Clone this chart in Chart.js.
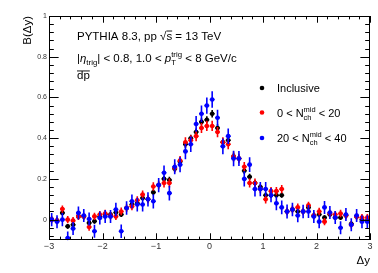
<!DOCTYPE html>
<html>
<head>
<meta charset="utf-8">
<script src="https://cdn.jsdelivr.net/npm/chart.js@4"></script>
<style>
body { margin: 0; background: #fff; }
#wrap { width: 378px; height: 273px; }
</style>
</head>
<body>
<div id="wrap"><canvas id="chart" width="378" height="273"></canvas></div>
<script>
// bin centres in delta y
var dyBins = [-2.95, -2.85, -2.75, -2.65, -2.55, -2.45, -2.35, -2.25, -2.15, -2.05,
    -1.95, -1.85, -1.75, -1.65, -1.55, -1.45, -1.35, -1.25, -1.15, -1.05,
    -0.95, -0.85, -0.75, -0.65, -0.55, -0.45, -0.35, -0.25, -0.15, -0.05,
    0.05, 0.15, 0.25, 0.35, 0.45, 0.55, 0.65, 0.75, 0.85, 0.95,
    1.05, 1.15, 1.25, 1.35, 1.45, 1.55, 1.65, 1.75, 1.85, 1.95,
    2.05, 2.15, 2.25, 2.35, 2.45, 2.55, 2.65, 2.75, 2.85, 2.95];

var inclusive = [0.0, -0.005, 0.033, -0.033, -0.025, 0.016, 0.016, -0.016, -0.008, 0.015,
    0.025, 0.025, 0.035, 0.025, 0.057, 0.074, 0.08, 0.106, 0.10, 0.134,
    0.17, 0.20, 0.195, 0.25, 0.285, 0.37, 0.40, 0.43, 0.48, 0.49,
    0.52, 0.45, 0.38, 0.39, 0.31, 0.30, 0.24, 0.21, 0.18, 0.16,
    0.12, 0.12, 0.12, 0.12, 0.04, 0.05, 0.04, 0.04, 0.06, 0.02,
    0.025, 0.01, 0.025, 0.01, 0.01, 0.02, -0.02, 0.015, 0.0, -0.005];
var inclusiveErr = [0.012, 0.012, 0.012, 0.012, 0.012, 0.012, 0.012, 0.012, 0.012, 0.012,
    0.012, 0.012, 0.012, 0.012, 0.013, 0.013, 0.013, 0.013, 0.014, 0.014,
    0.014, 0.015, 0.015, 0.016, 0.016, 0.017, 0.017, 0.018, 0.018, 0.018,
    0.018, 0.018, 0.018, 0.017, 0.017, 0.016, 0.016, 0.015, 0.015, 0.014,
    0.014, 0.014, 0.013, 0.013, 0.013, 0.013, 0.012, 0.012, 0.012, 0.012,
    0.012, 0.012, 0.012, 0.012, 0.012, 0.012, 0.012, 0.012, 0.012, 0.012];

var lowMult = [0.0, -0.005, 0.052, 0.0, -0.005, 0.016, 0.016, -0.036, 0.016, 0.025,
    0.03, 0.02, 0.016, 0.04, 0.057, 0.065, 0.095, 0.123, 0.10, 0.163,
    0.17, 0.18, 0.18, 0.255, 0.29, 0.38, 0.39, 0.41, 0.45, 0.46,
    0.46, 0.43, 0.38, 0.37, 0.31, 0.30, 0.26, 0.18, 0.18, 0.15,
    0.10, 0.14, 0.14, 0.15, 0.04, 0.05, 0.06, 0.04, 0.07, 0.02,
    0.04, -0.01, 0.03, 0.025, 0.03, 0.02, -0.025, 0.015, 0.01, 0.01];
var lowMultErr = [0.018, 0.018, 0.018, 0.018, 0.018, 0.018, 0.018, 0.018, 0.018, 0.018,
    0.018, 0.018, 0.018, 0.019, 0.019, 0.019, 0.02, 0.02, 0.02, 0.021,
    0.021, 0.022, 0.022, 0.023, 0.023, 0.024, 0.024, 0.025, 0.025, 0.025,
    0.025, 0.025, 0.025, 0.024, 0.024, 0.023, 0.023, 0.022, 0.022, 0.021,
    0.021, 0.02, 0.02, 0.02, 0.019, 0.019, 0.019, 0.018, 0.018, 0.018,
    0.018, 0.018, 0.018, 0.018, 0.018, 0.018, 0.018, 0.018, 0.018, 0.018];

var highMult = [0.0, -0.01, 0.0, -0.09, -0.044, 0.033, 0.02, 0.003, -0.057, 0.008,
    0.015, 0.015, 0.05, -0.057, 0.057, 0.09, 0.074, 0.074, 0.10, 0.09,
    0.17, 0.23, 0.13, 0.26, 0.27, 0.335, 0.37, 0.47, 0.52, 0.56,
    0.59, 0.50, 0.36, 0.41, 0.30, 0.30, 0.20, 0.27, 0.15, 0.15,
    0.15, 0.12, 0.08, 0.06, 0.04, 0.05, 0.02, 0.04, 0.04, 0.015,
    -0.01, 0.06, 0.035, 0.01, -0.04, 0.025, -0.025, 0.02, -0.01, -0.01];
var highMultErr = [0.032, 0.032, 0.032, 0.032, 0.032, 0.032, 0.032, 0.032, 0.032, 0.032,
    0.032, 0.032, 0.033, 0.033, 0.033, 0.034, 0.034, 0.034, 0.035, 0.035,
    0.035, 0.036, 0.036, 0.037, 0.037, 0.038, 0.038, 0.039, 0.04, 0.04,
    0.04, 0.04, 0.039, 0.038, 0.038, 0.037, 0.037, 0.036, 0.036, 0.035,
    0.035, 0.035, 0.034, 0.034, 0.034, 0.033, 0.033, 0.033, 0.032, 0.032,
    0.032, 0.032, 0.032, 0.032, 0.032, 0.032, 0.032, 0.032, 0.032, 0.032];

var xTicks = [-3, -2, -1, 0, 1, 2, 3];
var yTicks = [0, 0.2, 0.4, 0.6, 0.8, 1];

var FONT = '"Liberation Sans", Arial, Helvetica, sans-serif';

function points(vals) {
    return dyBins.map(function (x, i) { return { x: x, y: vals[i] }; });
}

// draws a list of text pieces one after another, with sub/superscripts
function richText(ctx, x, y, parts, size) {
    var cx = x;
    parts.forEach(function (p) {
        var s = p.small ? size * 0.68 : size;
        ctx.font = (p.italic ? 'italic ' : '') + s + 'px ' + FONT;
        var dy = p.sub ? size * 0.28 : (p.sup ? -size * 0.42 : 0);
        var w = ctx.measureText(p.t).width;
        ctx.fillText(p.t, cx, y + dy);
        if (p.bar) {
            ctx.fillRect(cx, y - size * 0.82, w, 0.9);
        }
        if (!p.stack) cx += w;
    });
    return cx;
}

var errorBars = {
    id: 'errorBars',
    beforeDatasetDraw: function (chart, args) {
        var ds = chart.data.datasets[args.index];
        var xs = chart.scales.x, ys = chart.scales.y;
        var a = chart.chartArea;
        var ctx = chart.ctx;
        ctx.save();
        ctx.beginPath();
        ctx.rect(a.left, a.top, a.right - a.left, a.bottom - a.top);
        ctx.clip();
        ctx.strokeStyle = ds.borderColor;
        ctx.lineWidth = 1.6;
        ds.data.forEach(function (p, i) {
            var px = xs.getPixelForValue(p.x);
            var e = ds.errors[i];
            ctx.beginPath();
            ctx.moveTo(px, ys.getPixelForValue(p.y - e));
            ctx.lineTo(px, ys.getPixelForValue(p.y + e));
            var py = ys.getPixelForValue(p.y);
            ctx.moveTo(xs.getPixelForValue(p.x - 0.045), py);
            ctx.lineTo(xs.getPixelForValue(p.x + 0.045), py);
            ctx.stroke();
        });
        ctx.restore();
    }
};

var frame = {
    id: 'frame',
    afterDraw: function (chart) {
        var ctx = chart.ctx;
        var a = chart.chartArea;
        var xs = chart.scales.x, ys = chart.scales.y;
        var w = a.right - a.left, h = a.bottom - a.top;
        ctx.save();
        ctx.strokeStyle = '#000';
        ctx.lineWidth = 1;
        ctx.strokeRect(a.left + 0.5, a.top + 0.5, w - 1, h - 1);

        // inward ticks, mirrored on the opposite sides
        var xMaj = h * 0.03, yMaj = w * 0.03;
        ctx.beginPath();
        for (var v = -3; v <= 3.001; v += 0.2) {
            var px = Math.round(xs.getPixelForValue(v)) + 0.5;
            var major = Math.abs(v - Math.round(v)) < 0.01;
            var L = major ? xMaj : xMaj / 2;
            ctx.moveTo(px, a.bottom); ctx.lineTo(px, a.bottom - L);
            ctx.moveTo(px, a.top); ctx.lineTo(px, a.top + L);
        }
        for (var k = -2; k <= 25; k++) {
            var val = k * 0.04;
            if (val < -0.1 || val > 1.0001) continue;
            var py = Math.round(ys.getPixelForValue(val)) + 0.5;
            var majorY = k % 5 === 0;
            var Ly = majorY ? yMaj : yMaj / 2;
            ctx.moveTo(a.left, py); ctx.lineTo(a.left + Ly, py);
            ctx.moveTo(a.right, py); ctx.lineTo(a.right - Ly, py);
        }
        ctx.stroke();

        // tick labels
        ctx.fillStyle = '#333';
        ctx.font = '9px ' + FONT;
        ctx.textAlign = 'center';
        ctx.textBaseline = 'middle';
        xTicks.forEach(function (t) {
            var lbl = t < 0 ? '\u2212' + Math.abs(t) : String(t);
            ctx.fillText(lbl, xs.getPixelForValue(t), a.bottom + 7);
        });
        ctx.font = '7px ' + FONT;
        ctx.textAlign = 'right';
        yTicks.forEach(function (t) {
            ctx.fillText(String(t), a.left - 2, ys.getPixelForValue(t));
        });

        // axis titles
        ctx.fillStyle = '#000';
        ctx.font = '11.5px ' + FONT;
        ctx.textBaseline = 'alphabetic';
        ctx.textAlign = 'right';
        ctx.fillText('\u0394y', a.right, 264);
        ctx.save();
        ctx.translate(31, a.top);
        ctx.rotate(-Math.PI / 2);
        ctx.textAlign = 'right';
        ctx.fillText('B(\u0394y)', 0, 0);
        ctx.restore();

        // annotation text
        ctx.textAlign = 'left';
        var sz = 11.5;
        var x = 77;
        x = richText(ctx, x, 40, [{ t: 'PYTHIA 8.3, pp \u221A' }], sz);
        x = richText(ctx, x, 40, [{ t: 's', bar: true }, { t: ' = 13 TeV' }], sz);

        richText(ctx, 77, 62, [
            { t: '|' }, { t: '\u03B7', italic: true }, { t: 'trig', small: true, sub: true },
            { t: '| < 0.8, 1.0 < ' }, { t: 'p', italic: true },
            { t: 'T', small: true, sub: true, stack: true }, { t: 'trig', small: true, sup: true },
            { t: ' < 8 GeV/c' }
        ], sz);

        ctx.font = sz + 'px ' + FONT;
        ctx.fillText('dp', 77, 79);
        ctx.fillRect(77, 70.5, ctx.measureText('dp').width, 0.9);

        // legend
        var legendRows = [
            { c: '#000000', y: 88, parts: [{ t: 'Inclusive' }] },
            { c: '#ff0000', y: 112.5, parts: [{ t: '0 < N' }, { t: 'ch', small: true, sub: true, stack: true }, { t: 'mid', small: true, sup: true }, { t: ' < 20' }] },
            { c: '#0000ff', y: 138, parts: [{ t: '20 < N' }, { t: 'ch', small: true, sub: true, stack: true }, { t: 'mid', small: true, sup: true }, { t: ' < 40' }] }
        ];
        legendRows.forEach(function (r) {
            ctx.fillStyle = r.c;
            ctx.beginPath();
            ctx.arc(262, r.y, 2.3, 0, Math.PI * 2);
            ctx.fill();
            ctx.fillStyle = '#000';
            richText(ctx, 277, r.y + 4, r.parts, 11);
        });
        ctx.restore();
    }
};

function series(label, vals, errs, color, order) {
    return {
        label: label,
        data: points(vals),
        errors: errs,
        borderColor: color,
        backgroundColor: color,
        pointRadius: 2.3,
        pointBorderWidth: 0,
        pointHoverRadius: 2.3,
        showLine: false,
        order: order,
        clip: false
    };
}

new Chart(document.getElementById('chart'), {
    type: 'scatter',
    data: {
        datasets: [
            series('Inclusive', inclusive, inclusiveErr, '#000000', 3),
            series('0 < N_ch^mid < 20', lowMult, lowMultErr, '#ff0000', 2),
            series('20 < N_ch^mid < 40', highMult, highMultErr, '#0000ff', 1)
        ]
    },
    options: {
        responsive: false,
        animation: false,
        layout: { padding: { left: 49, right: 8, top: 16, bottom: 33 } },
        plugins: { legend: { display: false }, tooltip: { enabled: false } },
        scales: {
            x: { type: 'linear', min: -3, max: 3, display: false },
            y: { type: 'linear', min: -0.1, max: 1.0, display: false }
        }
    },
    plugins: [errorBars, frame]
});
</script>
</body>
</html>
